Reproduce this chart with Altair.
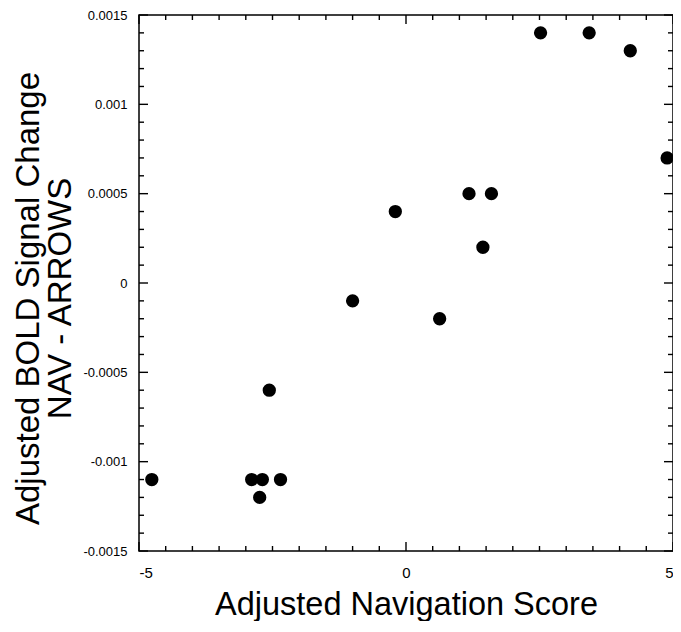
import altair as alt
import pandas as pd

# Data points
nav_score = [-4.76, -2.89, -2.69, -2.35, -2.74, -2.56, -1.0, -0.2, 0.63,
             1.18, 1.6, 1.44, 2.52, 3.43, 4.2, 4.89]
bold_change = [-0.0011, -0.0011, -0.0011, -0.0011, -0.0012, -0.0006, -0.0001,
               0.0004, -0.0002, 0.0005, 0.0005, 0.0002, 0.0014, 0.0014,
               0.0013, 0.0007]

# Axis tick positions
x_major = [-5, 0, 5]
x_minor = [-4.5, -4, -3.5, -3, -2.5, -2, -1.5, -1, -0.5,
           0.5, 1, 1.5, 2, 2.5, 3, 3.5, 4, 4.5]
y_major = [-0.0015, -0.001, -0.0005, 0, 0.0005, 0.001, 0.0015]
y_minor = [-0.0014, -0.0013, -0.0012, -0.0011, -0.0009, -0.0008, -0.0007,
           -0.0006, -0.0004, -0.0003, -0.0002, -0.0001, 0.0001, 0.0002,
           0.0003, 0.0004, 0.0006, 0.0007, 0.0008, 0.0009, 0.0011, 0.0012,
           0.0013, 0.0014]

x_title = "Adjusted Navigation Score"
y_title = ["Adjusted BOLD Signal Change", "NAV - ARROWS"]

W, H = 534, 536
FONT = "Liberation Sans"

xs = alt.Scale(domain=[-5, 5], nice=False, zero=False)
ys = alt.Scale(domain=[-0.0015, 0.0015], nice=False, zero=False)

xaxis = alt.Axis(values=x_major, labelExpr="'' + datum.value",
                 title=x_title,
                 ticks=False, domain=False, grid=False,
                 labelPadding=14, labelFontSize=15, labelFont=FONT,
                 labelColor="black", titleFont=FONT, titleFontSize=32.5,
                 titleFontWeight="normal", titleColor="black",
                 titleBaseline="alphabetic", titleY=63)
yaxis = alt.Axis(values=y_major, labelExpr="'' + datum.value",
                 title=y_title,
                 ticks=False, domain=False, grid=False,
                 labelPadding=12, labelFontSize=13, labelFont=FONT,
                 labelColor="black", titleFont=FONT, titleFontSize=33,
                 titleFontWeight="normal", titleColor="black",
                 titleBaseline="alphabetic", titleAlign="center",
                 titleAngle=270, titleX=-101, titleY=283,
                 titleLineHeight=32)

df = pd.DataFrame({"x": nav_score, "y": bold_change})

points = alt.Chart(df).mark_circle(size=177, color="black", opacity=1).encode(
    x=alt.X("x:Q", scale=xs, axis=xaxis),
    y=alt.Y("y:Q", scale=ys, axis=yaxis),
)


def xticks(vals, length):
    d = pd.DataFrame({"x": vals})
    base = alt.Chart(d).mark_rule(color="black", strokeWidth=1.4)
    bottom = base.encode(x=alt.X("x:Q", scale=xs, axis=xaxis),
                         y=alt.value(H), y2=alt.value(H - length))
    top = base.encode(x=alt.X("x:Q", scale=xs, axis=xaxis),
                      y=alt.value(0), y2=alt.value(length))
    return [bottom, top]


def yticks(vals, length):
    d = pd.DataFrame({"y": vals})
    base = alt.Chart(d).mark_rule(color="black", strokeWidth=1.4)
    left = base.encode(y=alt.Y("y:Q", scale=ys, axis=yaxis),
                       x=alt.value(0), x2=alt.value(length))
    right = base.encode(y=alt.Y("y:Q", scale=ys, axis=yaxis),
                        x=alt.value(W), x2=alt.value(W - length))
    return [left, right]


layers = ([points] + xticks(x_minor, 5) + xticks(x_major, 9) +
          yticks(y_minor, 5) + yticks(y_major, 9))

chart = alt.layer(*layers).properties(
    width=W, height=H,
    autosize=alt.AutoSizeParams(type="none"),
    padding={"left": 131, "top": 7, "right": 0, "bottom": 70},
    background="white",
).configure_view(stroke="black", strokeWidth=1.5)

chart.save("out.html", embed_options={"renderer": "svg", "actions": False})
